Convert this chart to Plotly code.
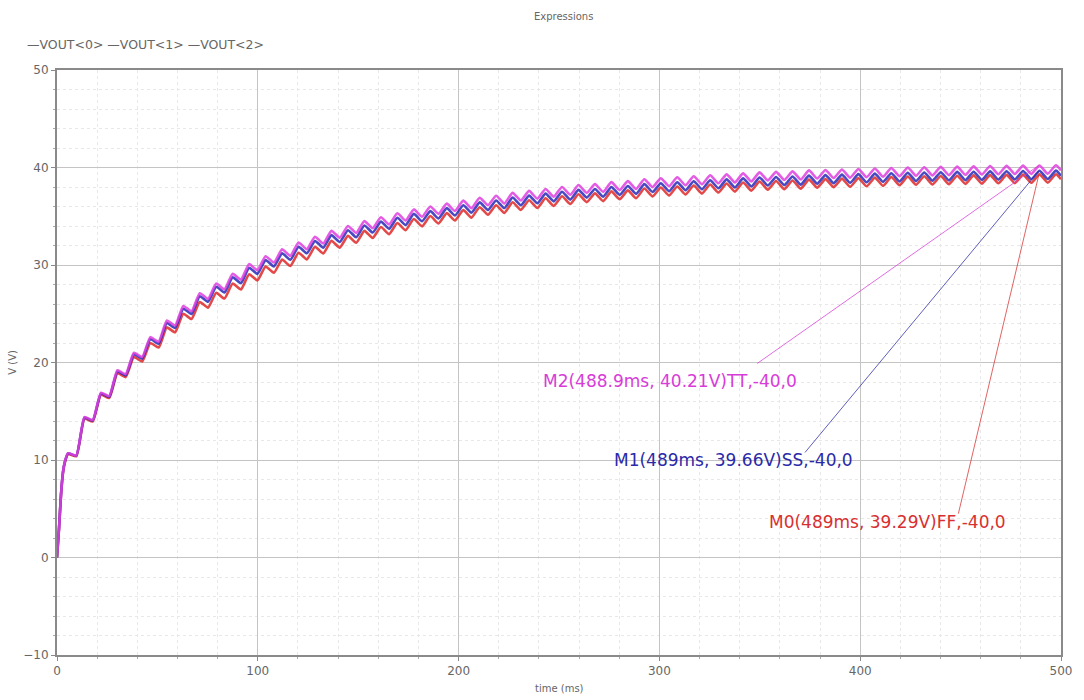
import plotly.graph_objects as go

# Transient output voltage of three process corners (VOUT<0> = FF, VOUT<1> = SS, VOUT<2> = TT).
# Each ripple cycle is stored as a crest followed by the trough it sags to.

t_start = [0.0, 1.0, 2.0, 3.0, 4.0]  # ms, initial charge-up
v_start_ff = [0.0, 2.9, 6.4, 8.7, 9.8]
v_start_ss = [0.0, 3.0, 6.5, 8.8, 9.88]
v_start_tt = [0.0, 3.0, 6.5, 8.8, 9.9]

t_peak = [
    5.5, 13.7, 21.9, 30.1, 38.3, 46.5, 54.7, 62.9, 71.1, 79.3,
    87.5, 95.7, 103.9, 112.1, 120.3, 128.5, 136.7, 144.9, 153.1, 161.3,
    169.5, 177.7, 185.9, 194.1, 202.3, 210.5, 218.7, 226.9, 235.1, 243.3,
    251.5, 259.7, 267.9, 276.1, 284.3, 292.5, 300.7, 308.9, 317.1, 325.3,
    333.5, 341.7, 349.9, 358.1, 366.3, 374.5, 382.7, 390.9, 399.1, 407.3,
    415.5, 423.7, 431.9, 440.1, 448.3, 456.5, 464.7, 472.9, 481.1, 489.3,
    497.5,
]
t_trough = [
    9.6, 17.8, 26.0, 34.2, 42.4, 50.6, 58.8, 67.0, 75.2, 83.4,
    91.6, 99.8, 108.0, 116.2, 124.4, 132.6, 140.8, 149.0, 157.2, 165.4,
    173.6, 181.8, 190.0, 198.2, 206.4, 214.6, 222.8, 231.0, 239.2, 247.4,
    255.6, 263.8, 272.0, 280.2, 288.4, 296.6, 304.8, 313.0, 321.2, 329.4,
    337.6, 345.8, 354.0, 362.2, 370.4, 378.6, 386.8, 395.0, 403.2, 411.4,
    419.6, 427.8, 436.0, 444.2, 452.4, 460.6, 468.8, 477.0, 485.2, 493.4,
    500.0,
]

# VOUT<2> (TT)
tt_peak = [
    10.7, 14.4, 16.9, 19.2, 21.0, 22.6, 24.3, 25.8, 27.1, 28.1,
    29.1, 30.1, 30.9, 31.6, 32.3, 32.9, 33.5, 34.0, 34.5, 34.9,
    35.3, 35.7, 36.0, 36.3, 36.6, 36.9, 37.1, 37.4, 37.6, 37.8,
    38.0, 38.2, 38.3, 38.5, 38.6, 38.8, 38.9, 39.0, 39.1, 39.2,
    39.3, 39.4, 39.5, 39.55, 39.6, 39.7, 39.75, 39.8, 39.85, 39.9,
    39.95, 40.0, 40.03, 40.06, 40.09, 40.12, 40.15, 40.17, 40.19, 40.21,
    40.23,
]
tt_trough = [
    10.48, 14.10, 16.55, 18.80, 20.56, 22.13, 23.79, 25.26, 26.53, 27.51,
    28.49, 29.47, 30.25, 30.94, 31.62, 32.21, 32.80, 33.29, 33.78, 34.17,
    34.56, 34.95, 35.24, 35.54, 35.83, 36.13, 36.32, 36.61, 36.81, 37.01,
    37.20, 37.40, 37.50, 37.69, 37.79, 37.99, 38.08, 38.18, 38.28, 38.38,
    38.47, 38.57, 38.67, 38.72, 38.77, 38.87, 38.92, 38.96, 39.01, 39.06,
    39.11, 39.16, 39.19, 39.22, 39.25, 39.28, 39.31, 39.33, 39.35, 39.37,
    39.71,
]

# VOUT<1> (SS)
ss_peak = [
    10.68, 14.35, 16.82, 19.08, 20.84, 22.40, 24.06, 25.52, 26.80, 27.77,
    28.74, 29.72, 30.50, 31.19, 31.88, 32.47, 33.06, 33.56, 34.05, 34.45,
    34.84, 35.24, 35.53, 35.83, 36.13, 36.42, 36.62, 36.92, 37.12, 37.32,
    37.51, 37.71, 37.80, 38.00, 38.10, 38.30, 38.39, 38.49, 38.59, 38.69,
    38.78, 38.88, 38.98, 39.03, 39.07, 39.17, 39.22, 39.27, 39.32, 39.37,
    39.41, 39.46, 39.49, 39.52, 39.55, 39.57, 39.60, 39.62, 39.64, 39.66,
    39.68,
]
ss_trough = [
    10.46, 14.05, 16.47, 18.68, 20.40, 21.93, 23.55, 24.98, 26.23, 27.18,
    28.13, 29.09, 29.85, 30.53, 31.20, 31.78, 32.36, 32.85, 33.33, 33.72,
    34.10, 34.49, 34.77, 35.07, 35.36, 35.65, 35.84, 36.13, 36.33, 36.53,
    36.71, 36.91, 37.00, 37.19, 37.29, 37.49, 37.57, 37.67, 37.77, 37.87,
    37.95, 38.05, 38.15, 38.20, 38.24, 38.34, 38.39, 38.43, 38.48, 38.53,
    38.57, 38.62, 38.65, 38.68, 38.71, 38.73, 38.76, 38.78, 38.80, 38.82,
    39.16,
]

# VOUT<0> (FF)
ff_peak = [
    10.60, 14.25, 16.70, 18.90, 20.55, 22.00, 23.60, 25.00, 26.20, 27.15,
    28.10, 29.05, 29.85, 30.55, 31.26, 31.87, 32.48, 32.99, 33.50, 33.90,
    34.31, 34.71, 35.02, 35.32, 35.63, 35.93, 36.13, 36.44, 36.64, 36.84,
    37.05, 37.25, 37.35, 37.55, 37.65, 37.85, 37.95, 38.05, 38.15, 38.25,
    38.36, 38.46, 38.56, 38.61, 38.66, 38.76, 38.81, 38.86, 38.91, 38.96,
    39.02, 39.07, 39.10, 39.13, 39.16, 39.19, 39.22, 39.24, 39.27, 39.29,
    39.31,
]
ff_trough = [
    10.38, 13.95, 16.35, 18.50, 20.11, 21.53, 23.09, 24.46, 25.63, 26.56,
    27.49, 28.42, 29.20, 29.89, 30.58, 31.18, 31.78, 32.28, 32.78, 33.17,
    33.57, 33.96, 34.26, 34.56, 34.86, 35.16, 35.35, 35.65, 35.85, 36.05,
    36.25, 36.45, 36.55, 36.74, 36.84, 37.04, 37.13, 37.23, 37.33, 37.43,
    37.53, 37.63, 37.73, 37.78, 37.83, 37.93, 37.98, 38.02, 38.07, 38.12,
    38.18, 38.23, 38.26, 38.29, 38.32, 38.35, 38.38, 38.40, 38.43, 38.45,
    38.79,
]

# Marker readouts at the crest near 489 ms
markers = [
    {"name": "M2", "t": 488.9, "v": 40.21, "corner": "TT"},
    {"name": "M1", "t": 489.0, "v": 39.66, "corner": "SS"},
    {"name": "M0", "t": 489.0, "v": 39.29, "corner": "FF"},
]


def waveform(t0, v0, tp, vp, tq, vq):
    xs, ys = list(t0), list(v0)
    for a, b, c, d in zip(tp, vp, tq, vq):
        xs += [a, c]
        ys += [b, d]
    return xs, ys


RED = "#e02a2a"
BLUE = "#2a2ab8"
MAGENTA = "#e040e0"
GRAY = "#666666"
FONT = "DejaVu Sans"

series = [
    ("VOUT<0>", RED, waveform(t_start, v_start_ff, t_peak, ff_peak, t_trough, ff_trough)),
    ("VOUT<1>", BLUE, waveform(t_start, v_start_ss, t_peak, ss_peak, t_trough, ss_trough)),
    ("VOUT<2>", MAGENTA, waveform(t_start, v_start_tt, t_peak, tt_peak, t_trough, tt_trough)),
]

fig = go.Figure()
for name, color, (xs, ys) in series:
    fig.add_trace(go.Scatter(
        x=xs, y=ys, mode="lines", name=name,
        line=dict(color=color, width=2.6, shape="spline", smoothing=0.5),
        opacity=0.85, showlegend=False,
    ))

# Marker leader lines and labels
label_pos = {
    "M2": dict(end=(348.7, 19.9), text=(241.0, 18.15), color="#d83cd8"),
    "M1": dict(end=(372.5, 10.77), text=(276.3, 10.0), color="#2a2aa8"),
    "M0": dict(end=(448.9, 4.5), text=(353.7, 3.6), color="#d83030"),
}
for m in markers:
    p = label_pos[m["name"]]
    fig.add_shape(type="line", xref="x", yref="y",
                  x0=m["t"], y0=m["v"], x1=p["end"][0], y1=p["end"][1],
                  line=dict(color=p["color"], width=1), opacity=0.75)
    t_lbl = f'{m["t"]:g}ms'
    fig.add_annotation(
        x=p["text"][0], y=p["text"][1], xref="x", yref="y",
        xanchor="left", yanchor="middle", showarrow=False,
        text=f'{m["name"]}({t_lbl}, {m["v"]:.2f}V){m["corner"]},-40,0',
        font=dict(family=FONT, size=17, color=p["color"]),
    )

# Legend row drawn as text along the top
legend_txt = " ".join(f"—{name.replace('<', '&lt;').replace('>', '&gt;')}" for name, _, _ in series)
fig.add_annotation(
    x=-32 / 1008, y=1 + 25 / 585, xref="paper", yref="paper", text=legend_txt, showarrow=False,
    xanchor="left", yanchor="middle",
    font=dict(family=FONT, size=12.5, color=GRAY),
)

# Axis titles
fig.add_annotation(
    x=-45 / 1008, y=0.5, xref="paper", yref="paper", text="V (V)", showarrow=False,
    textangle=-90, xanchor="center", yanchor="middle",
    font=dict(family=FONT, size=10, color=GRAY),
)
fig.add_annotation(
    x=0.5, y=-33 / 585, xref="paper", yref="paper", text="time (ms)", showarrow=False,
    xanchor="center", yanchor="middle",
    font=dict(family=FONT, size=10, color=GRAY),
)

axis_common = dict(
    showline=True, linecolor="#8a8a8a", linewidth=2, mirror=True,
    showgrid=True, gridcolor="#c4c4c4", gridwidth=1,
    ticks="outside", ticklen=4, tickcolor="#8a8a8a",
    tickfont=dict(family=FONT, size=12, color=GRAY),
    zeroline=False,
    minor=dict(showgrid=True, gridcolor="#e8e8e8", gridwidth=1, griddash="dot",
               ticks="outside", ticklen=2, tickcolor="#aaaaaa"),
)

fig.update_xaxes(range=[0, 500], dtick=100, tick0=0, minor_dtick=20, **axis_common)
fig.update_yaxes(range=[-10, 50], dtick=10, tick0=0, minor_dtick=2, **axis_common)

fig.update_layout(
    width=1084, height=700,
    margin=dict(l=57, r=19, t=70, b=45),
    paper_bgcolor="white", plot_bgcolor="white",
    title=dict(text="Expressions", x=0.52, xanchor="center", y=1 - 16 / 700, yanchor="middle",
               font=dict(family=FONT, size=10, color=GRAY)),
)

fig.write_html("out.html")
